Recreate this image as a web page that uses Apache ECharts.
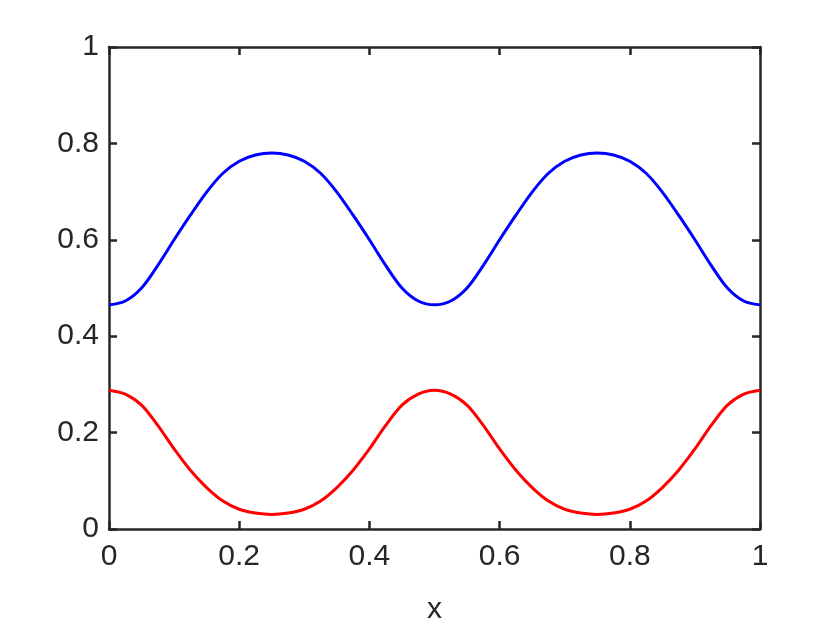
<!DOCTYPE html>
<html><head><meta charset="utf-8">
<script src="https://cdn.jsdelivr.net/npm/echarts@6/dist/echarts.min.js"></script>
<style>html,body{margin:0;padding:0;background:#fff}#c{width:840px;height:630px}</style>
</head><body><div id="c"></div>
<script>
const xValues = [0,0.025,0.05,0.075,0.1,0.125,0.15,0.175,0.2,0.225,0.25,0.275,0.3,0.325,0.35,0.375,0.4,0.425,0.45,0.475,0.5,
  0.525,0.55,0.575,0.6,0.625,0.65,0.675,0.7,0.725,0.75,0.775,0.8,0.825,0.85,0.875,0.9,0.925,0.95,0.975,1];
const blueValues = [0.465,0.473,0.500,0.547,0.600,0.651,0.699,0.738,0.763,0.776,0.780,0.776,0.763,0.738,0.699,0.651,0.600,0.547,0.500,0.473,0.465,
  0.473,0.500,0.547,0.600,0.651,0.699,0.738,0.763,0.776,0.780,0.776,0.763,0.738,0.699,0.651,0.600,0.547,0.500,0.473,0.465];
const redValues = [0.288,0.280,0.257,0.215,0.166,0.122,0.086,0.058,0.041,0.033,0.030,0.033,0.041,0.058,0.086,0.122,0.166,0.215,0.257,0.280,0.288,
  0.280,0.257,0.215,0.166,0.122,0.086,0.058,0.041,0.033,0.030,0.033,0.041,0.058,0.086,0.122,0.166,0.215,0.257,0.280,0.288];
const xTicks = [0,0.2,0.4,0.6,0.8,1];
const yTicks = [0,0.2,0.4,0.6,0.8,1];
const xLabel = 'x';

const axisColor = '#262626';
const font = 'Liberation Sans, Arial, Helvetica, sans-serif';
function baseAxis(show, pos) {
  return {
    type: 'value', min: 0, max: 1, interval: 0.2, position: pos,
    axisLine: {show: true, onZero: false, lineStyle: {color: axisColor, width: 2.5}},
    axisTick: {show: true, inside: true, length: 8, lineStyle: {color: axisColor, width: 2.5}},
    axisLabel: {show: show, color: axisColor, fontSize: 30, fontFamily: font},
    splitLine: {show: false}
  };
}
const chart = echarts.init(document.getElementById('c'), null, {renderer: 'canvas'});
const xa0 = Object.assign(baseAxis(true, 'bottom'), {
  name: xLabel, nameLocation: 'middle', nameGap: 66,
  nameTextStyle: {color: axisColor, fontSize: 30, fontFamily: font}
});
xa0.axisLabel.margin = 13;
const ya0 = baseAxis(true, 'left');
ya0.axisLabel.margin = 10;
chart.setOption({
  animation: false,
  backgroundColor: '#fff',
  grid: {left: 109, right: 80, top: 47, bottom: 98},
  xAxis: [xa0, baseAxis(false, 'top')],
  yAxis: [ya0, baseAxis(false, 'right')],
  series: [
    {type: 'line', data: xValues.map((x, i) => [x, blueValues[i]]), smooth: 0.3, showSymbol: false,
     lineStyle: {color: '#0000ff', width: 3}},
    {type: 'line', data: xValues.map((x, i) => [x, redValues[i]]), smooth: 0.3, showSymbol: false,
     lineStyle: {color: '#ff0000', width: 3}}
  ]
});
</script></body></html>
